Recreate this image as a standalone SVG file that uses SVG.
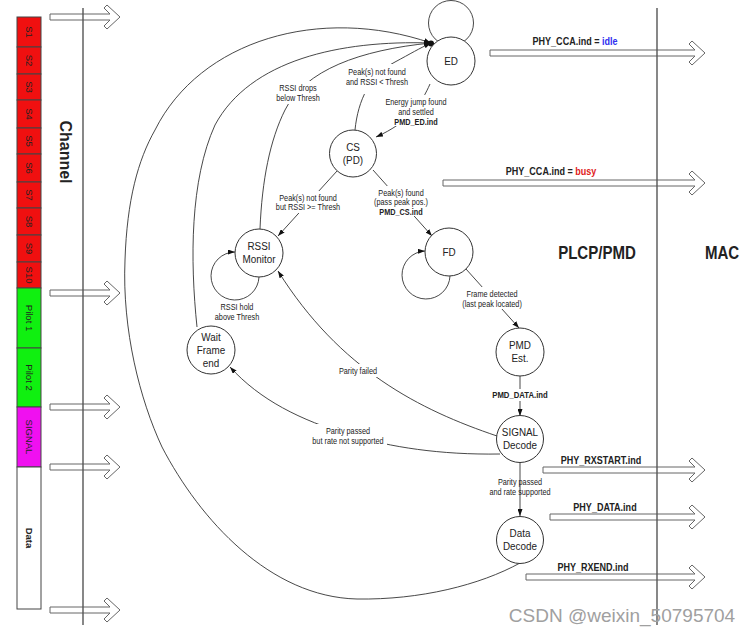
<svg xmlns="http://www.w3.org/2000/svg" width="753" height="634" viewBox="0 0 753 634">
  <style>
    text { font-family: "Liberation Sans", Arial, sans-serif; fill: #222; }
    .sq { transform: scaleX(.86); transform-box: fill-box; transform-origin: center; }
    .node { fill: #fff; stroke: #333; stroke-width: 1; }
    .loop { fill: none; stroke: #333; stroke-width: 0.9; }
    .nt { font-size: 11.5px; text-anchor: middle; }
    .el { font-size: 8.5px; text-anchor: middle; }
    .eb { font-size: 9px; font-weight: bold; text-anchor: middle; }
    .al { font-size: 10.5px; font-weight: bold; text-anchor: middle; }
    .big { font-size: 17.5px; font-weight: bold; text-anchor: middle; }
    .conn { fill: none; stroke: #333; stroke-width: 0.9; }
    .hollow { fill: #fff; stroke: #666; stroke-width: 1; }
    .seg { stroke: #444; stroke-width: 1; }
    .sl { font-size: 9.5px; text-anchor: middle; dominant-baseline: central; }
    .bg { fill: #fff; }
    .axis { stroke: #555; stroke-width: 1.4; }
  </style>
  <defs>
    <marker id="ah" viewBox="0 0 7 5" refX="7" refY="2.5" markerWidth="7" markerHeight="5" markerUnits="userSpaceOnUse" orient="auto">
      <path d="M0,0L7,2.5L0,5z" fill="#111"/>
    </marker>
  </defs>

  <!-- frame structure column -->
  <g id="frame">
    <rect class="seg" x="17" y="17" width="24" height="30" fill="#f01010"/>
    <rect class="seg" x="17" y="47" width="24" height="27" fill="#f01010"/>
    <rect class="seg" x="17" y="74" width="24" height="26" fill="#f01010"/>
    <rect class="seg" x="17" y="100" width="24" height="28" fill="#f01010"/>
    <rect class="seg" x="17" y="128" width="24" height="26" fill="#f01010"/>
    <rect class="seg" x="17" y="154" width="24" height="28" fill="#f01010"/>
    <rect class="seg" x="17" y="182" width="24" height="26" fill="#f01010"/>
    <rect class="seg" x="17" y="208" width="24" height="27" fill="#f01010"/>
    <rect class="seg" x="17" y="235" width="24" height="27" fill="#f01010"/>
    <rect class="seg" x="17" y="262" width="24" height="26" fill="#f01010"/>
    <rect class="seg" x="17" y="288" width="24" height="60" fill="#10f010"/>
    <rect class="seg" x="17" y="348" width="24" height="59" fill="#10f010"/>
    <rect class="seg" x="17" y="407" width="24" height="60" fill="#f010f0"/>
    <rect class="seg" x="17" y="467" width="24" height="142" fill="#fff"/>
    <text class="sl" x="29" y="32" transform="rotate(90 29 32)">S1</text>
    <text class="sl" x="29" y="60.5" transform="rotate(90 29 60.5)">S2</text>
    <text class="sl" x="29" y="87" transform="rotate(90 29 87)">S3</text>
    <text class="sl" x="29" y="114" transform="rotate(90 29 114)">S4</text>
    <text class="sl" x="29" y="141" transform="rotate(90 29 141)">S5</text>
    <text class="sl" x="29" y="168" transform="rotate(90 29 168)">S6</text>
    <text class="sl" x="29" y="195" transform="rotate(90 29 195)">S7</text>
    <text class="sl" x="29" y="221.5" transform="rotate(90 29 221.5)">S8</text>
    <text class="sl" x="29" y="248.5" transform="rotate(90 29 248.5)">S9</text>
    <text class="sl" x="29" y="275" transform="rotate(90 29 275)">S10</text>
    <text class="sl" x="29" y="318" transform="rotate(90 29 318)">Pilot 1</text>
    <text class="sl" x="29" y="377.5" transform="rotate(90 29 377.5)">Pilot 2</text>
    <text class="sl" x="29" y="437" transform="rotate(90 29 437)">SIGNAL</text>
    <text class="sl" x="29" y="538" transform="rotate(90 29 538)" font-weight="bold">Data</text>
    <text x="65" y="152" transform="rotate(90 65 152)" font-size="16" font-weight="bold" text-anchor="middle" dominant-baseline="central">Channel</text>
  </g>

  <!-- hollow signal arrows -->
  <g id="signals">
    <polygon class="hollow" points="50,14 110,14 104,8 107,5 120,17 107,29 104,26 110,20 50,20"/>
    <polygon class="hollow" points="50,290 110,290 104,284 107,281 120,293 107,305 104,302 110,296 50,296"/>
    <polygon class="hollow" points="50,404 110,404 104,398 107,395 120,407 107,419 104,416 110,410 50,410"/>
    <polygon class="hollow" points="50,464 110,464 104,458 107,455 120,467 107,479 104,476 110,470 50,470"/>
    <polygon class="hollow" points="50,607 110,607 104,601 107,598 120,610 107,622 104,619 110,613 50,613"/>
    <polygon class="hollow" points="490,50 695,50 689,44 692,41 705,53 692,65 689,62 695,56 490,56"/>
    <polygon class="hollow" points="443,180 695,180 689,174 692,171 705,183 692,195 689,192 695,186 443,186"/>
    <polygon class="hollow" points="543,467 695,467 689,461 692,458 705,470 692,482 689,479 695,473 543,473"/>
    <polygon class="hollow" points="550,514 695,514 689,508 692,505 705,517 692,529 689,526 695,520 550,520"/>
    <polygon class="hollow" points="526,574 695,574 689,568 692,565 705,577 692,589 689,586 695,580 526,580"/>
    <text class="al sq" x="575" y="45">PHY_CCA.ind = <tspan fill="#3030f0">idle</tspan></text>
    <text class="al sq" x="551" y="175">PHY_CCA.ind = <tspan fill="#e02020">busy</tspan></text>
    <text class="al sq" x="601" y="464">PHY_RXSTART.ind</text>
    <text class="al sq" x="605" y="511">PHY_DATA.ind</text>
    <text class="al sq" x="593" y="571">PHY_RXEND.ind</text>
  </g>

  <!-- layer boundaries -->
  <g id="layers">
    <line class="axis" x1="83" y1="8" x2="83" y2="625"/>
    <line class="axis" x1="657" y1="8" x2="657" y2="625"/>
    <text class="big sq" x="597" y="259">PLCP/PMD</text>
    <text class="big sq" x="722" y="259">MAC</text>
  </g>

  <!-- state transitions -->
  <g id="connectors">
    <circle class="loop" cx="451" cy="23" r="22.5"/>
    <path class="loop" d="M259,277 A24,24 0 1 1 235,252" marker-end="url(#ah)"/>
    <path class="loop" d="M450,276 A24,24 0 1 1 425,251" marker-end="url(#ah)"/>
    <path class="conn" d="M520,563 C480,585 420,600 357,599 C270,597 200,520 162,447 C140,400 122,330 125,260 C127,200 138,160 155,130 C200,40 320,5 431,43" marker-end="url(#ah)"/>
    <path class="conn" d="M197,327 C190,260 190,180 215,125 C250,60 340,40 431,43" marker-end="url(#ah)"/>
    <path class="conn" d="M260,229 C262,180 270,140 285,110 C305,70 360,50 431,43" marker-end="url(#ah)"/>
    <path class="conn" d="M355,130 C358,100 370,75 395,62 C410,54 420,48 431,43" marker-end="url(#ah)"/>
    <circle cx="431" cy="43.5" r="3" fill="#111"/>
    <path class="conn" d="M430,84 C422,102 410,122 376,137" marker-end="url(#ah)"/>
    <path class="conn" d="M337,171 L278,236" marker-end="url(#ah)"/>
    <path class="conn" d="M373,170 L432,236" marker-end="url(#ah)"/>
    <path class="conn" d="M466,269 L519,328" marker-end="url(#ah)"/>
    <path class="conn" d="M520,376 L520,416" marker-end="url(#ah)"/>
    <path class="conn" d="M520,462 L520,516" marker-end="url(#ah)"/>
    <path class="conn" d="M497,436 C420,410 340,370 278,271" marker-end="url(#ah)"/>
    <path class="conn" d="M500,454 C440,455 390,447 350,435 C300,420 260,400 230,367" marker-end="url(#ah)"/>
  </g>

  <!-- transition labels -->
  <g id="labels">
    <rect class="bg" x="272" y="81" width="52" height="23"/>
    <text class="el sq" x="298" y="91">RSSI drops<tspan x="298" y="101">below Thresh</tspan></text>
    <rect class="bg" x="346" y="64" width="62" height="30"/>
    <text class="el sq" x="377" y="75">Peak(s) not found<tspan x="377" y="85">and RSSI &lt; Thresh</tspan></text>
    <rect class="bg" x="382" y="95" width="68" height="31"/>
    <text class="el sq" x="416" y="105">Energy jump found<tspan x="416" y="115">and settled</tspan><tspan x="416" y="125" font-weight="bold">PMD_ED.ind</tspan></text>
    <rect class="bg" x="274" y="191" width="68" height="22"/>
    <text class="el sq" x="308" y="201">Peak(s) not found<tspan x="308" y="210">but RSSI &gt;= Thresh</tspan></text>
    <rect class="bg" x="370" y="186" width="62" height="30"/>
    <text class="el sq" x="401" y="196">Peak(s) found<tspan x="401" y="205">(pass peak pos.)</tspan><tspan x="401" y="215" font-weight="bold">PMD_CS.ind</tspan></text>
    <text class="el sq" x="237" y="310">RSSI hold<tspan x="237" y="320">above Thresh</tspan></text>
    <rect class="bg" x="462" y="287" width="60" height="22"/>
    <text class="el sq" x="492" y="297">Frame detected<tspan x="492" y="307">(last peak located)</tspan></text>
    <rect class="bg" x="337" y="364" width="42" height="13"/>
    <text class="el sq" x="358" y="374">Parity failed</text>
    <rect class="bg" x="492" y="389" width="56" height="12"/>
    <text class="eb sq" x="520" y="398">PMD_DATA.ind</text>
    <rect class="bg" x="310" y="424" width="77" height="22"/>
    <text class="el sq" x="348" y="434">Parity passed<tspan x="348" y="444">but rate not supported</tspan></text>
    <text class="el sq" x="520" y="485">Parity passed<tspan x="520" y="495">and rate supported</tspan></text>
  </g>

  <!-- states -->
  <g id="state-ed">
    <circle class="node" cx="451" cy="61" r="24"/>
    <text class="nt sq" x="451" y="65">ED</text>
  </g>
  <g id="state-cs">
    <circle class="node" cx="353" cy="153.5" r="23.5"/>
    <text class="nt sq" x="353" y="151">CS<tspan x="353" y="164">(PD)</tspan></text>
  </g>
  <g id="state-rssi">
    <circle class="node" cx="259" cy="253" r="24"/>
    <text class="nt sq" x="259" y="250">RSSI<tspan x="259" y="263">Monitor</tspan></text>
  </g>
  <g id="state-fd">
    <circle class="node" cx="449" cy="252" r="24"/>
    <text class="nt sq" x="449" y="256">FD</text>
  </g>
  <g id="state-pmd">
    <circle class="node" cx="520" cy="352" r="24"/>
    <text class="nt sq" x="520" y="349.5">PMD<tspan x="520" y="362.5">Est.</tspan></text>
  </g>
  <g id="state-signal">
    <circle class="node" cx="520" cy="439" r="23.5"/>
    <text class="nt sq" x="520" y="436.5">SIGNAL<tspan x="520" y="449.5">Decode</tspan></text>
  </g>
  <g id="state-data">
    <circle class="node" cx="520" cy="540" r="23.5"/>
    <text class="nt sq" x="520" y="537.5">Data<tspan x="520" y="550.5">Decode</tspan></text>
  </g>
  <g id="state-wait">
    <circle class="node" cx="211" cy="350" r="24"/>
    <text class="nt sq" x="211" y="341">Wait<tspan x="211" y="354">Frame</tspan><tspan x="211" y="367">end</tspan></text>
  </g>

  <text x="622" y="622" font-size="19" text-anchor="middle" fill="#a0a0a0" style="fill:#a0a0a0">CSDN @weixin_50795704</text>
</svg>
